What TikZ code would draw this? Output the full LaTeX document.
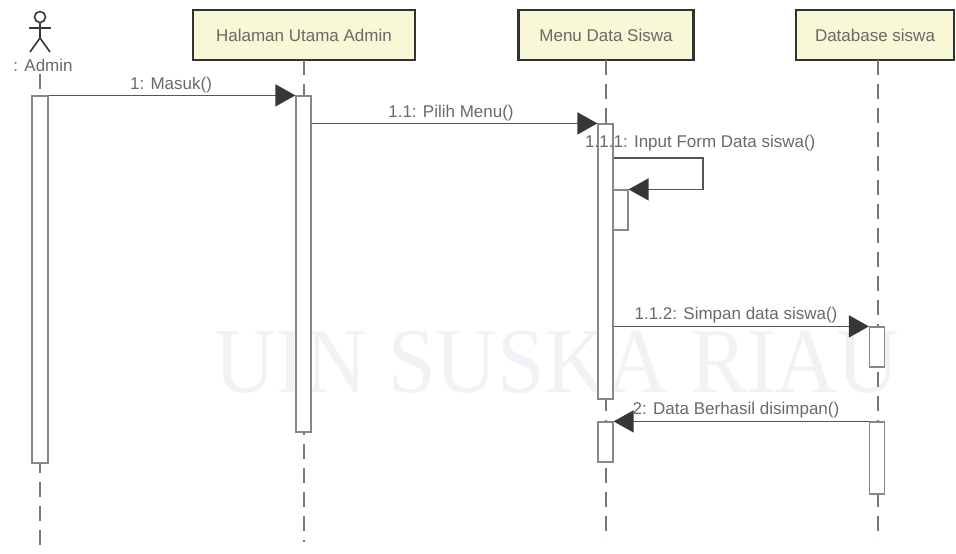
\documentclass[tikz,border=0pt]{standalone}
\usepackage{fontspec}
\setmainfont{Liberation Sans}
\newfontfamily\wmfont{Liberation Serif}
\usetikzlibrary{arrows.meta}
\definecolor{boxfill}{RGB}{248,248,214}
\definecolor{boxline}{RGB}{50,50,50}
\definecolor{msgline}{RGB}{85,85,85}
\definecolor{txt}{RGB}{105,105,105}
\definecolor{actline}{RGB}{135,135,135}
\definecolor{lifecol}{RGB}{120,120,120}
\definecolor{headcol}{RGB}{55,55,55}
\definecolor{wmcol}{RGB}{241,242,246}
\begin{document}
\begin{tikzpicture}[x=1pt,y=-1pt,
  objbox/.style={draw=boxline, line width=2.4pt, fill=boxfill, text=txt,
    font=\fontsize{17}{20}\selectfont, minimum height=50pt, inner sep=0pt},
  lifeln/.style={draw=lifecol, line width=1.3pt, dash pattern=on 15pt off 9pt},
  actbox/.style={draw=actline, line width=1.2pt, fill=white, minimum width=15pt, inner sep=0pt},
  msg/.style={draw=msgline, line width=1.5pt, -{Triangle[length=20pt,width=22pt,color=headcol]}},
  lbl/.style={text=txt, font=\fontsize{17}{20}\selectfont, inner sep=0pt},
  actor/.style={draw=headcol, line width=1.6pt}
]
\useasboundingbox (0,0) rectangle (956,554);

% watermark
\node[text=wmcol, font=\wmfont\fontsize{93}{100}\selectfont, xscale=0.92, inner sep=0pt] (wm) at (557,362) {UIN SUSKA RIAU};

% actor figure
\draw[actor] (40,17) circle (5.5pt);
\draw[actor] (40,22.5) -- (40,38);
\draw[actor] (29,28) -- (51,28);
\draw[actor] (30,52) -- (40,38) -- (50,52);
\node[lbl] (adm) at (43,65) {: Admin};

% object boxes
\node[objbox, minimum width=222pt] (hal) at (304,35) {Halaman Utama Admin};
\node[objbox, minimum width=175pt] (menu) at (606,35) {Menu Data Siswa};
\node[objbox, minimum width=158pt] (db) at (875,35) {Database siswa};

% lifeline end points
\coordinate (adtop) at (40,74);
\coordinate (adend) at (40,554);
\coordinate (haltop) at (304,60);
\coordinate (halend) at (304,542);
\coordinate (mtop) at (606,60);
\coordinate (mend) at (606,540);
\coordinate (dbtop) at (878,60);
\coordinate (dbend) at (878,540);

\draw[lifeln] (adtop) -- (adend);
\draw[lifeln] (haltop) -- (halend);
\draw[lifeln] (mtop) -- (mend);
\draw[lifeln] (dbtop) -- (dbend);

% activation boxes
\node[actbox, minimum width=16pt, minimum height=367pt] (a0) at (40,279.5) {};
\node[actbox, minimum height=336pt] (h0) at (303.5,264) {};
\node[actbox, minimum height=275pt] (m1) at (605.5,261.5) {};
\node[actbox, minimum height=40pt] (nest) at (620.5,210) {};
\node[actbox, minimum height=40pt] (d1) at (877,347) {};
\node[actbox, minimum height=40pt] (m2) at (605.5,442) {};
\node[actbox, minimum height=72pt] (d2) at (877,458) {};

% messages
\draw[msg] (a0.north east) -- (h0.north west);
\node[lbl] (l1) at (171,85) {1: Masuk()};

\draw[msg] (h0.east |- m1.north) -- (m1.north west);
\node[lbl] (l2) at (451,113) {1.1: Pilih Menu()};

\coordinate (selfy) at (0,158);
\coordinate (selfx) at (703,0);
\draw[msg] (m1.east |- selfy) -- (selfx |- selfy) -- (selfx |- nest.north) -- (nest.north east);
\node[lbl, anchor=west] (l3) at (585,143) {1.1.1: Input Form Data siswa()};

\draw[msg] (m1.east |- d1.north) -- (d1.north west);
\node[lbl] (l4) at (736,315) {1.1.2: Simpan data siswa()};

\draw[msg] (d2.north west) -- (m2.north east);
\node[lbl] (l5) at (736,410) {2: Data Berhasil disimpan()};
\end{tikzpicture}
\end{document}
